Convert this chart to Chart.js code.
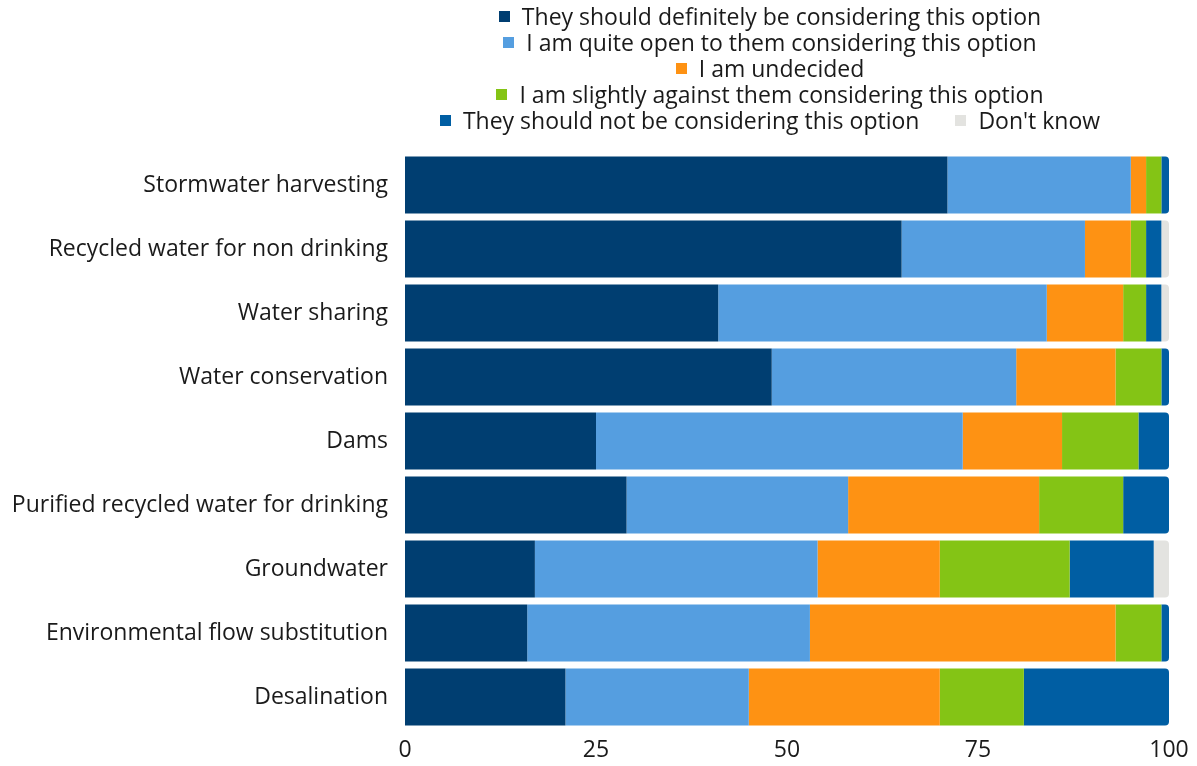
<!DOCTYPE html>
<html>
<head>
<meta charset="utf-8">
<script src="https://cdn.jsdelivr.net/npm/chart.js@4.4.0/dist/chart.umd.min.js"></script>
<style>
  body { margin: 0; background: #fff; font-family: "Open Sans", sans-serif; }
  #wrap { position: relative; width: 1197px; height: 766px; }
  #legend { position: absolute; left: 343px; top: 3px; width: 854px; font-size: 23px; color: #1a1a1a; }
  .row { display: flex; justify-content: center; align-items: center; height: 26px; }
  .item { display: flex; align-items: center; margin: 0 18px; white-space: nowrap; }
  .sw { width: 11px; height: 11px; margin-right: 12px; }
</style>
</head>
<body>
<div id="wrap">
  <div id="legend"></div>
  <canvas id="chart" width="1197" height="766"></canvas>
</div>
<script>
// Survey: attitudes toward water supply options (% of respondents)
const categories = [
  'Stormwater harvesting',
  'Recycled water for non drinking',
  'Water sharing',
  'Water conservation',
  'Dams',
  'Purified recycled water for drinking',
  'Groundwater',
  'Environmental flow substitution',
  'Desalination'
];
const seriesNames = [
  'They should definitely be considering this option',
  'I am quite open to them considering this option',
  'I am undecided',
  'I am slightly against them considering this option',
  'They should not be considering this option',
  "Don't know"
];
const seriesColors = ['#003e71', '#559ee0', '#fe9213', '#84c415', '#005ea3', '#e3e3e0'];

const definitely = [71, 65, 41, 48, 25, 29, 17, 16, 21];
const quiteOpen  = [24, 24, 43, 32, 48, 29, 37, 37, 24];
const undecided  = [2, 6, 10, 13, 13, 25, 16, 40, 25];
const slightlyAgainst = [2, 2, 3, 6, 10, 11, 17, 6, 11];
const shouldNot  = [1, 2, 2, 1, 4, 6, 11, 1, 19];
const dontKnow   = [0, 1, 1, 0, 0, 0, 2, 0, 0];
const xTicks = [0, 25, 50, 75, 100];

const allSeries = [definitely, quiteOpen, undecided, slightlyAgainst, shouldNot, dontKnow];

// legend rows laid out like the original (last two items share a row)
const legendRows = [[0], [1], [2], [3], [4, 5]];
const legendEl = document.getElementById('legend');
legendRows.forEach(r => {
  const row = document.createElement('div');
  row.className = 'row';
  r.forEach(i => {
    const it = document.createElement('div');
    it.className = 'item';
    it.innerHTML = `<span class="sw" style="background:${seriesColors[i]}"></span><span>${seriesNames[i]}</span>`;
    row.appendChild(it);
  });
  legendEl.appendChild(row);
});

// round the right end of the last non-empty segment only
function lastIndex(row) {
  let last = 0;
  allSeries.forEach((s, k) => { if (s[row] > 0) last = k; });
  return last;
}

const datasets = allSeries.map((s, k) => ({
  label: seriesNames[k],
  data: s,
  backgroundColor: seriesColors[k],
  borderWidth: 0,
  barPercentage: 0.89,
  categoryPercentage: 1,
  borderRadius: ctx => (lastIndex(ctx.dataIndex) === k
    ? { topLeft: 0, bottomLeft: 0, topRight: 4, bottomRight: 4 }
    : 0),
  borderSkipped: false
}));

const tickFont = { family: '"Open Sans"', size: 23 };

new Chart(document.getElementById('chart'), {
  type: 'bar',
  data: { labels: categories, datasets },
  options: {
    indexAxis: 'y',
    responsive: false,
    animation: false,
    layout: { padding: { top: 153, right: 28, bottom: 0, left: 0 } },
    plugins: { legend: { display: false }, tooltip: { enabled: false } },
    scales: {
      x: {
        stacked: true,
        min: 0,
        max: 100,
        afterBuildTicks: axis => { axis.ticks = xTicks.map(v => ({ value: v })); },
        afterFit: axis => { axis.height = 37; },
        grid: { display: false, drawTicks: false, tickLength: 0 },
        border: { display: false },
        ticks: { padding: 8, color: '#1a1a1a', font: tickFont, maxRotation: 0 }
      },
      y: {
        stacked: true,
        afterFit: axis => { axis.width = 405; },
        grid: { display: false, drawTicks: false, tickLength: 0 },
        border: { display: false },
        ticks: { padding: 17, color: '#1a1a1a', font: tickFont }
      }
    }
  }
});
</script>
</body>
</html>
